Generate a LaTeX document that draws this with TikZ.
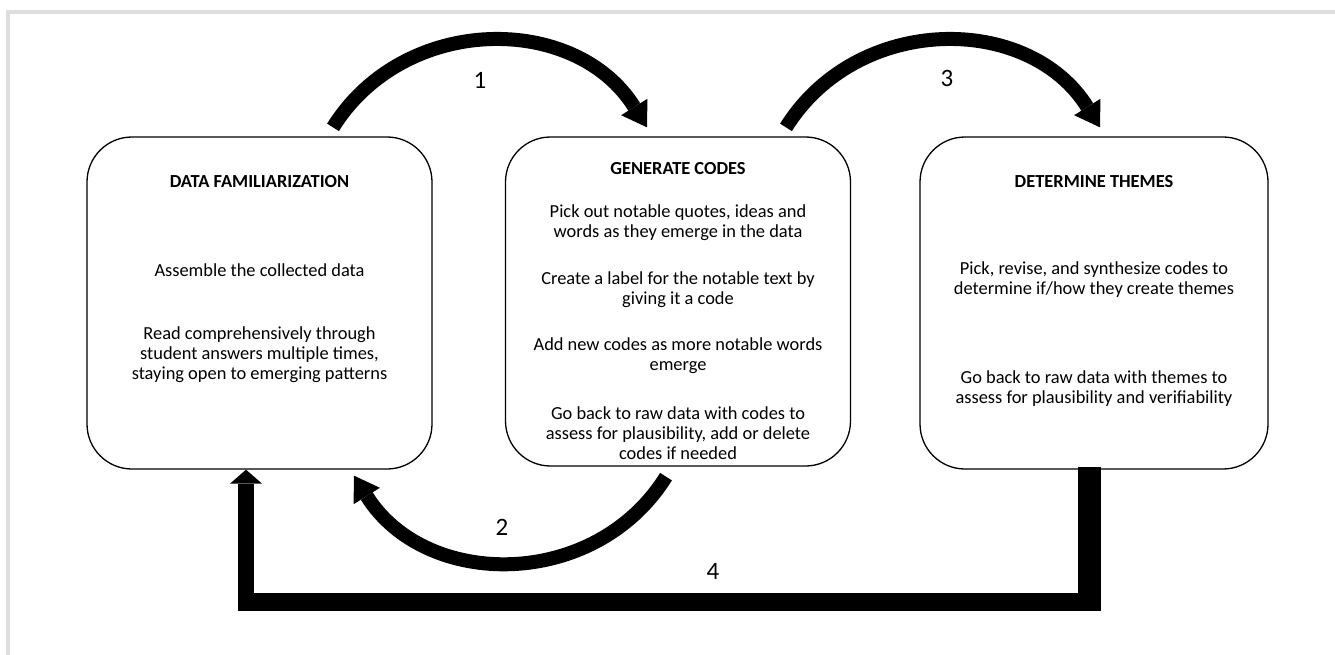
\documentclass[tikz,border=0pt]{standalone}
\usepackage{fontspec}
\setmainfont{Carlito}
\usetikzlibrary{arrows.meta,positioning,calc}
\tikzstyle{stage} = [draw, line width=1.3pt, rounded corners=45pt, minimum width=345pt, minimum height=332pt]
\tikzstyle{head} = [font=\fontsize{18.4}{20}\selectfont\bfseries]
\tikzstyle{body} = [align=center, font=\fontsize{18.4}{20}\selectfont]
\tikzstyle{num} = [font=\fontsize{25}{28}\selectfont]
\tikzstyle{flow} = [line width=14pt, -{Triangle[width=31pt,length=24pt,line width=0pt]}]

\begin{document}
\begin{tikzpicture}[x=1pt,y=-1pt]
\useasboundingbox (0,0) rectangle (1335,655);
\draw[black!13, line width=4pt] (8,655) -- (8,12) -- (1335,12);

\node[stage] (fam) at (259.5,303) {};
\node[stage, minimum height=329pt] (gen) at (678,301.5) {};
\node[stage, minimum width=348pt] (thm) at (1094,303) {};

\node[head] (famT) at (259.5,182) {DATA FAMILIARIZATION};
\node[body] (famA) at (259.5,270) {Assemble the collected data};
\node[body] (famB) at (259.5,355) {Read comprehensively through\\student answers multiple times,\\staying open to emerging patterns};

\node[head] (genT) at (678,169) {GENERATE CODES};
\node[body] (genA) at (678,223) {Pick out notable quotes, ideas and\\words as they emerge in the data};
\node[body] (genB) at (678,290) {Create a label for the notable text by\\giving it a code};
\node[body] (genC) at (678,356) {Add new codes as more notable words\\emerge};
\node[body] (genD) at (678,433) {Go back to raw data with codes to\\assess for plausibility, add or delete\\codes if needed};

\node[head] (thmT) at (1094,182) {DETERMINE THEMES};
\node[body] (thmA) at (1094,280) {Pick, revise, and synthesize codes to\\determine if/how they create themes};
\node[body] (thmB) at (1094,389) {Go back to raw data with themes to\\assess for plausibility and verifiability};

\coordinate (s1) at ([shift={(73.5,-9)}]fam.north);
\coordinate (t1) at ([shift={(-31,-9)}]gen.north);
\coordinate (s3) at ([shift={(108,-9)}]gen.north);
\coordinate (t3) at ([shift={(6,-9)}]thm.north);
\coordinate (s2) at ([shift={(-12,10)}]gen.south);
\coordinate (t2) at ([shift={(94.5,6)}]fam.south);
\coordinate (d4) at ([shift={(-4.5,-3)}]thm.south);
\coordinate (t4) at ([shift={(-13.5,0)}]fam.south);

\draw[flow] (s1) to[out=58, in=122, looseness=1.1] (t1);
\draw[flow] (s3) to[out=58, in=122, looseness=1.1] (t3);
\draw[flow] (s2) to[out=-122, in=-58, looseness=1.1] (t2);
\draw[line width=23pt] (d4) -- ++(0,144) coordinate (c4);
\draw[line width=18pt] ([shift={(11.5,-9)}]c4) -- ([shift={(-8,-9)}]c4 -| t4);
\draw[line width=16pt, -{Triangle[width=32pt,length=14pt,line width=0pt]}] (c4 -| t4) -- (t4);

\node[num] (n1) at (480,80) {1};
\node[num] (n2) at (502,527) {2};
\node[num] (n3) at (947,78) {3};
\node[num] (n4) at (713,571) {4};
\end{tikzpicture}
\end{document}
